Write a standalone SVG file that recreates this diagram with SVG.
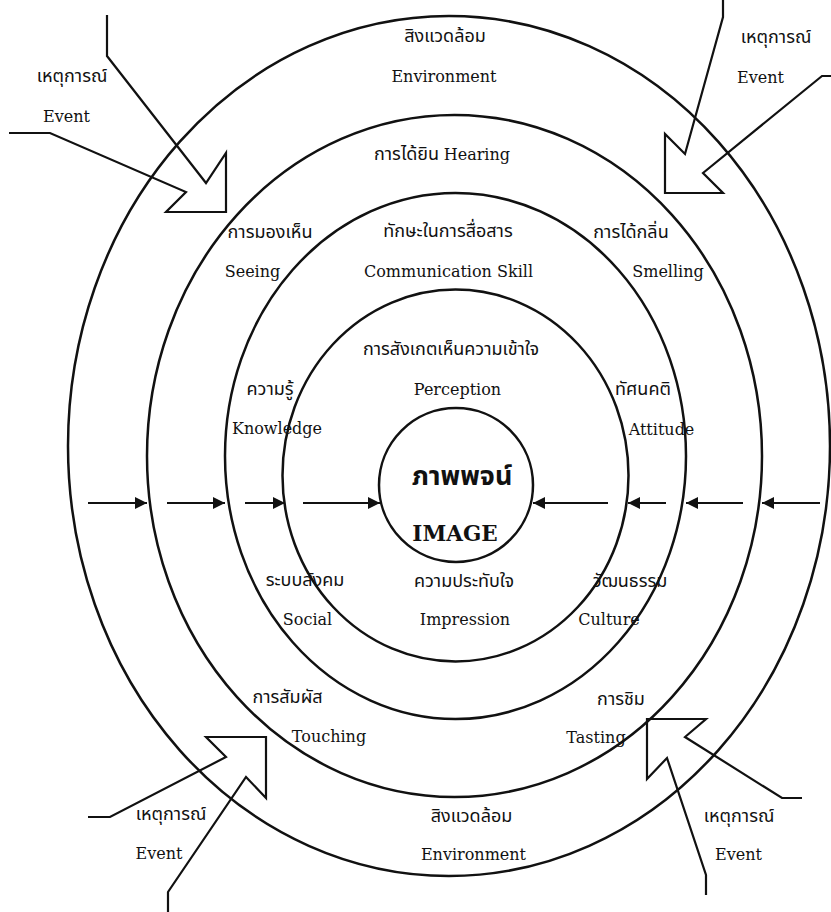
<svg xmlns="http://www.w3.org/2000/svg" width="831" height="912" viewBox="0 0 831 912">
<style>
.ring{fill:none;stroke:#111;stroke-width:2.5}
.ln{fill:none;stroke:#111;stroke-width:2.2;stroke-linejoin:miter}
.ha{fill:none;stroke:#111;stroke-width:2}
.th{font-family:"Noto Sans Thai","Noto Sans","DejaVu Sans","Noto Sans CJK SC",sans-serif;font-size:18px;fill:#111;text-anchor:middle}
.en{font-family:"DejaVu Serif","Liberation Serif",serif;font-size:16px;fill:#111;text-anchor:middle}
.big{font-weight:bold}
</style>
<defs>
<marker id="ah" viewBox="0 0 12 12" refX="12" refY="6" markerWidth="12" markerHeight="12" markerUnits="userSpaceOnUse" orient="auto">
<path d="M0,0 L12,6 L0,12 Z" fill="#111"/>
</marker>
</defs>
<rect width="831" height="912" fill="#fff"/>
<g id="rings">
<ellipse id="ring-environment" class="ring" cx="449" cy="446" rx="381" ry="430"/>
<ellipse id="ring-senses" class="ring" cx="454.5" cy="456" rx="307.5" ry="341"/>
<ellipse id="ring-skills" class="ring" cx="455.5" cy="456" rx="230.5" ry="263"/>
<ellipse id="ring-perception" class="ring" cx="455.5" cy="475.5" rx="173" ry="186"/>
</g>
<g id="image-node">
<circle class="ring" cx="456" cy="485" r="77"/>
<text class="th big" x="462" y="485" style="font-size:27px">ภาพพจน์</text>
<text class="en big" x="455" y="541" style="font-size:21.5px">IMAGE</text>
</g>
<g id="connectors">
<line class="ha" x1="88" y1="503" x2="147" y2="503" marker-end="url(#ah)"/>
<line class="ha" x1="167" y1="503" x2="225" y2="503" marker-end="url(#ah)"/>
<line class="ha" x1="245" y1="503" x2="285" y2="503" marker-end="url(#ah)"/>
<line class="ha" x1="303" y1="503" x2="380" y2="503" marker-end="url(#ah)"/>
<line class="ha" x1="820" y1="503" x2="762" y2="503" marker-end="url(#ah)"/>
<line class="ha" x1="743" y1="503" x2="686" y2="503" marker-end="url(#ah)"/>
<line class="ha" x1="666" y1="503" x2="628" y2="503" marker-end="url(#ah)"/>
<line class="ha" x1="608" y1="503" x2="533" y2="503" marker-end="url(#ah)"/>
</g>
<g id="event-arrow-tl"><path class="ln" d="M107,15 L107,56 L206,183 L226,153 L226,212 L166,212 L186,192 L50,133 L9,133"/></g>
<g id="event-arrow-tr"><path class="ln" d="M723,0 L723,17 L685,154 L665,134 L665,193 L723,193 L703,173 L822,76 L831,76"/></g>
<g id="event-arrow-bl"><path class="ln" d="M88,817 L110,817 L226,757 L206,737 L266,737 L266,798 L246,777 L168,892 L168,912"/></g>
<g id="event-arrow-br"><path class="ln" d="M706,895 L706,875 L667,758 L647,779 L647,719 L706,719 L685,737 L782,798 L802,798"/></g>
<g id="labels">
<text class="th" x="445" y="42">สิงแวดล้อม</text>
<text class="en" x="444" y="82">Environment</text>
<text class="th" x="442" y="160">การได้ยิน <tspan class="en" style="text-anchor:start">Hearing</tspan></text>
<text class="th" x="448" y="237">ทักษะในการสื่อสาร</text>
<text class="en" x="448.5" y="277">Communication Skill</text>
<text class="th" x="451" y="355">การสังเกตเห็นความเข้าใจ</text>
<text class="en" x="457.5" y="395">Perception</text>
<text class="th" x="464" y="587">ความประทับใจ</text>
<text class="en" x="465" y="625">Impression</text>
<text class="th" x="471.5" y="822">สิงแวดล้อม</text>
<text class="en" x="473.5" y="860">Environment</text>
<text class="th" x="72" y="82">เหตุการณ์</text>
<text class="en" x="66.5" y="122">Event</text>
<text class="th" x="776" y="43">เหตุการณ์</text>
<text class="en" x="760.5" y="83">Event</text>
<text class="th" x="171" y="820">เหตุการณ์</text>
<text class="en" x="159" y="859">Event</text>
<text class="th" x="739" y="822">เหตุการณ์</text>
<text class="en" x="738.5" y="860">Event</text>
<text class="th" x="270" y="238">การมองเห็น</text>
<text class="en" x="252.5" y="277">Seeing</text>
<text class="th" x="631" y="238">การได้กลิ่น</text>
<text class="en" x="668" y="277">Smelling</text>
<text class="th" x="270" y="395">ความรู้</text>
<text class="en" x="277" y="434">Knowledge</text>
<text class="th" x="643" y="395">ทัศนคติ</text>
<text class="en" x="661.5" y="435">Attitude</text>
<text class="th" x="305" y="586">ระบบสังคม</text>
<text class="en" x="307.5" y="625">Social</text>
<text class="th" x="630" y="587">วัฒนธรรม</text>
<text class="en" x="609" y="625">Culture</text>
<text class="th" x="287.5" y="703">การสัมผัส</text>
<text class="en" x="329" y="742">Touching</text>
<text class="th" x="621" y="705">การชิม</text>
<text class="en" x="596" y="743">Tasting</text>
</g>
</svg>
